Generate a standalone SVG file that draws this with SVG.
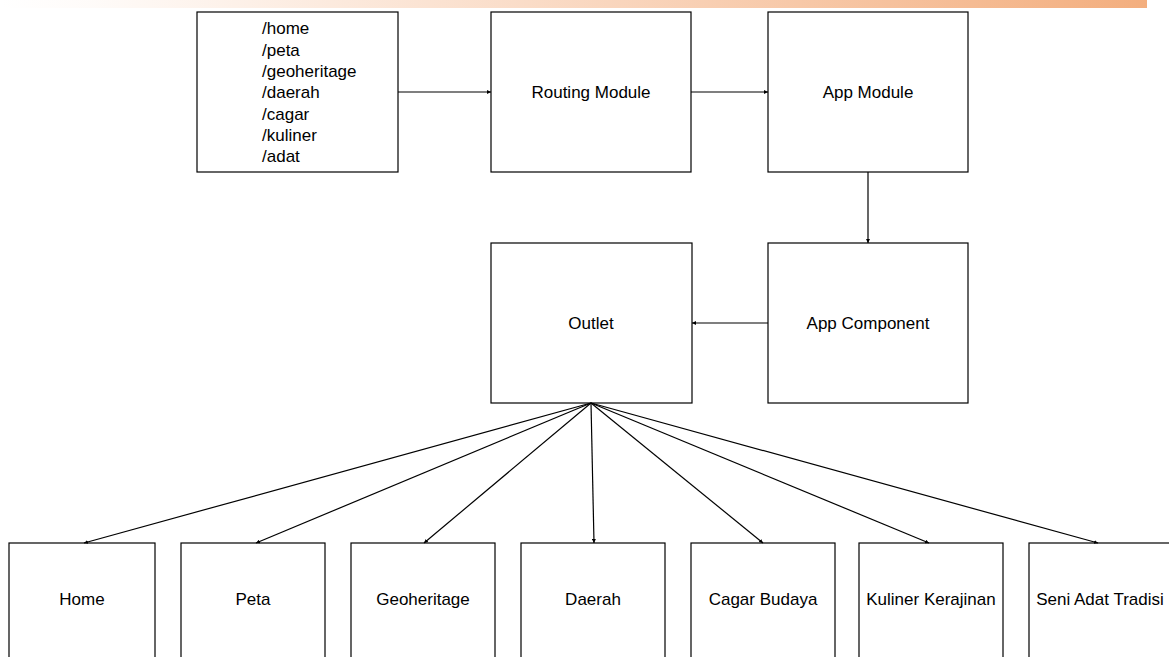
<svg xmlns="http://www.w3.org/2000/svg" width="1169" height="657" viewBox="0 0 1169 657">
<defs>
<linearGradient id="bar" x1="0" y1="0" x2="1" y2="0">
<stop offset="0" stop-color="#F4B183" stop-opacity="0"/>
<stop offset="0.08" stop-color="#F4B183" stop-opacity="0.05"/>
<stop offset="1" stop-color="#F3AE7E"/>
</linearGradient>
<marker id="ah" viewBox="0 0 8 8" refX="8" refY="4" markerWidth="4" markerHeight="4" orient="auto" markerUnits="userSpaceOnUse">
<path d="M0,0 L8,4 L0,8 z" fill="#000"/>
</marker>
<style>
.box{fill:#fff;stroke:#000;stroke-width:1.2}
.t{font-family:"Liberation Sans",Arial,sans-serif;font-size:17px;fill:#000;text-anchor:middle}
.l{font-family:"Liberation Sans",Arial,sans-serif;font-size:17px;fill:#000}
.c{stroke:#000;stroke-width:1.2;fill:none;marker-end:url(#ah)}
</style>
</defs>
<rect x="0" y="0" width="1147" height="8" fill="url(#bar)"/>
<g id="routes">
<rect class="box" x="197" y="12" width="201" height="160"/>
<text class="l" x="262" y="34">/home</text>
<text class="l" x="262" y="55.5">/peta</text>
<text class="l" x="262" y="77">/geoheritage</text>
<text class="l" x="262" y="98">/daerah</text>
<text class="l" x="262" y="119.5">/cagar</text>
<text class="l" x="262" y="141">/kuliner</text>
<text class="l" x="262" y="162">/adat</text>
</g>
<g id="routing-module">
<rect class="box" x="491" y="12" width="200" height="160"/>
<text class="t" x="591" y="98">Routing Module</text>
</g>
<g id="app-module">
<rect class="box" x="768" y="12" width="200" height="160"/>
<text class="t" x="868" y="98">App Module</text>
</g>
<g id="app-component">
<rect class="box" x="768" y="243" width="200" height="160"/>
<text class="t" x="868" y="329">App Component</text>
</g>
<g id="outlet">
<rect class="box" x="491" y="243" width="201" height="160"/>
<text class="t" x="591" y="329">Outlet</text>
</g>
<g id="home">
<rect class="box" x="9" y="543" width="146" height="130"/>
<text class="t" x="82" y="605">Home</text>
</g>
<g id="peta">
<rect class="box" x="181" y="543" width="144" height="130"/>
<text class="t" x="253" y="605">Peta</text>
</g>
<g id="geoheritage">
<rect class="box" x="351" y="543" width="144" height="130"/>
<text class="t" x="423" y="605">Geoheritage</text>
</g>
<g id="daerah">
<rect class="box" x="521" y="543" width="144" height="130"/>
<text class="t" x="593" y="605">Daerah</text>
</g>
<g id="cagar-budaya">
<rect class="box" x="691" y="543" width="144" height="130"/>
<text class="t" x="763" y="605">Cagar Budaya</text>
</g>
<g id="kuliner-kerajinan">
<rect class="box" x="859" y="543" width="144" height="130"/>
<text class="t" x="931" y="605">Kuliner Kerajinan</text>
</g>
<g id="seni-adat-tradisi">
<rect class="box" x="1029" y="543" width="144" height="130"/>
<text class="t" x="1100" y="605">Seni Adat Tradisi</text>
</g>
<g id="connectors">
<line class="c" x1="398" y1="92" x2="491" y2="92"/>
<line class="c" x1="691" y1="92" x2="768" y2="92"/>
<line class="c" x1="868" y1="172" x2="868" y2="243"/>
<line class="c" x1="768" y1="323" x2="692" y2="323"/>
<line class="c" x1="591" y1="403" x2="84" y2="543"/>
<line class="c" x1="591" y1="403" x2="256" y2="543"/>
<line class="c" x1="591" y1="403" x2="424" y2="543"/>
<line class="c" x1="591" y1="403" x2="594" y2="543"/>
<line class="c" x1="591" y1="403" x2="763" y2="543"/>
<line class="c" x1="591" y1="403" x2="929" y2="543"/>
<line class="c" x1="591" y1="403" x2="1098" y2="543"/>
</g>
</svg>
